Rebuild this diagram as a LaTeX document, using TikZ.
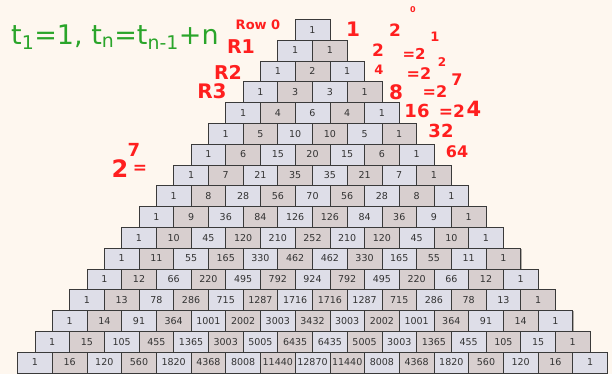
\documentclass[tikz,border=0pt]{standalone}
\usepackage{fontspec}
\newfontfamily\cellfont{DejaVu Sans}
\newfontfamily\handfont{DejaVu Sans}
\usetikzlibrary{shadows}
\definecolor{bgc}{HTML}{FEF7EF}
\definecolor{lav}{HTML}{DEDEE8}
\definecolor{tau}{HTML}{D8CFCF}
\definecolor{edgec}{HTML}{3A3A3A}
\definecolor{pen}{HTML}{FF1F1F}
\definecolor{greenpen}{HTML}{2AA52A}
\begin{document}
\begin{tikzpicture}[x=1pt,y=-1pt,
  cell/.style={draw=edgec, line width=0.7pt, minimum width=34.7pt, minimum height=20.8pt,
    inner sep=0pt, font=\cellfont\fontsize{9.5}{10}\selectfont, text=black!80,
    drop shadow={shadow xshift=0.8pt, shadow yshift=-0.8pt, opacity=0.3, fill=black}},
  rednote/.style={text=pen, inner sep=0pt, font=\handfont\bfseries\fontsize{#1}{#1}\selectfont},
  rednote/.default=18]
\path[fill=bgc] (0,0) rectangle (612,374);
\useasboundingbox (0,0) rectangle (612,374);
\foreach \r in {0,...,16}{
  \foreach \k in {0,...,\r}{
    \ifnum\k=0 \xdef\bv{1}\else\xdef\bv{\the\numexpr\bv*(\r-\k+1)/\k\relax}\fi
    \ifodd\k \def\cc{tau}\else\def\cc{lav}\fi
    \node[cell, fill=\cc] (c-\r-\k) at ({312.5+(\k-\r/2)*34.7},{29.7+20.8*\r}) {\bv};
  }
}
% green formula
\node[text=greenpen, inner sep=0pt, anchor=west, font=\handfont\fontsize{27}{28}\selectfont]
  (formula) at (11,37) {t\textsubscript{1}=1, t\textsubscript{n}=t\textsubscript{n-1}+n};
% red row labels
\node[rednote=13] (row0) at (258,25) {Row 0};
\node[rednote=19] (r1) at (241,47) {R1};
\node[rednote=19] (r2) at (228,72) {R2};
\node[rednote=20] (r3) at (212,91) {R3};
% red powers of two
\node[rednote=20] (s0) at (353,29) {1};
\node[rednote=17] (t0) at (395,30) {2};
\node[rednote=8] (e0) at (413,10) {0};
\node[rednote=13] (e1) at (435,37) {1};
\node[rednote=17] (s1) at (378,50) {2};
\node[rednote=15] (t1) at (414,54) {=2};
\node[rednote=12] (e2) at (442,62) {2};
\node[rednote=13] (s2) at (379,70) {4};
\node[rednote=16] (t2) at (419,74) {=2};
\node[rednote=16] (e3) at (457,80) {7};
\node[rednote=20] (s3) at (396,92) {8};
\node[rednote=16] (t3) at (435,92) {=2};
\node[rednote=18] (s4) at (417,111) {16};
\node[rednote=17] (t4) at (452,111) {=2};
\node[rednote=21] (e4) at (474,109) {4};
\node[rednote=18] (s5) at (441,131) {32};
\node[rednote=16] (s6) at (457,152) {64};
\node[rednote=24] (l2) at (120,169) {2};
\node[rednote=18] (l7) at (134,150) {7};
\node[rednote=17] (leq) at (140,169) {=};
\end{tikzpicture}
\end{document}
